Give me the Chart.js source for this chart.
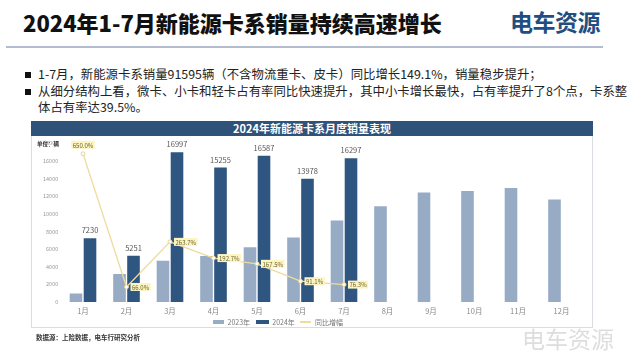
<!DOCTYPE html>
<html>
<head>
<meta charset="utf-8">
<script src="https://cdn.jsdelivr.net/npm/chart.js@4.4.1/dist/chart.umd.min.js"></script>
<style>
  body { margin: 0; width: 630px; height: 354px; background: #fff; position: relative; overflow: hidden;
         font-family: "Noto Sans CJK SC", "Noto Sans", sans-serif; }
  .abs { position: absolute; white-space: nowrap; }
  #title { left: 23px; top: 6px; font-size: 22px; font-weight: 900; color: #111; line-height: 32px; }
  #logo { left: 510px; top: 5px; font-size: 23px; font-weight: 700; color: #1f4f80; line-height: 32px; letter-spacing: -0.5px; }
  #rule { left: 6px; top: 46px; width: 597px; height: 2px; background: #b4bdd0; }
  .bullet { font-size: 12.4px; color: #222; line-height: 16.5px; }
  .sq { position: absolute; left: 25px; width: 6px; height: 6px; background: #111; }
  #panel { left: 31px; top: 121px; width: 560px; height: 206px; border: 1px solid #d9dde3; border-top: none; }
  #head { left: 31px; top: 121px; width: 562px; height: 15px; background: #2f5279; color: #fff;
          font-size: 11px; font-weight: 700; text-align: center; line-height: 15px; }
  #box { left: 32px; top: 137px; width: 559px; height: 190px; }
  #unit { left: 37px; top: 140px; font-size: 5.5px; font-weight: 700; color: #333; }
  #legend { left: 213px; top: 317px; font-size: 7px; color: #777; line-height: 9px; }
  #legend span { display: inline-block; vertical-align: middle; }
  #src { left: 36px; top: 332px; font-size: 6.5px; font-weight: 700; color: #333; }
  #mark { left: 522px; top: 323px; font-size: 23px; color: rgba(170,170,170,0.4); line-height: 30px; }
</style>
</head>
<body>
<div id="title" class="abs">2024年1-7月新能源卡系销量持续高速增长</div>
<div id="logo" class="abs">电车资源</div>
<div id="rule" class="abs"></div>

<div class="sq" style="top:72px"></div>
<div class="abs bullet" style="left:38px; top:66px">1-7月，新能源卡系销量91595辆（不含物流重卡、皮卡）同比增长149.1%，销量稳步提升；</div>
<div class="sq" style="top:89px"></div>
<div class="abs bullet" style="left:38px; top:83px">从细分结构上看，微卡、小卡和轻卡占有率同比快速提升，其中小卡增长最快，占有率提升了8个点，卡系整</div>
<div class="abs bullet" style="left:38px; top:99px">体占有率达39.5%。</div>

<div id="panel" class="abs"></div>
<div id="head" class="abs">2024年新能源卡系月度销量表现</div>
<div id="box" class="abs"><canvas id="chart-sales"></canvas></div>
<div id="unit" class="abs">单位：辆</div>

<div id="legend" class="abs">
  <span style="width:11px;height:4px;background:#97abc4"></span>
  <span style="margin:0 4px 0 2px">2023年</span>
  <span style="width:13px;height:4px;background:#2e5680"></span>
  <span style="margin:0 4px 0 2px">2024年</span>
  <span style="width:11px;height:1.5px;background:#f0dc9c"></span>
  <span style="margin:0 0 0 2px">同比增幅</span>
</div>
<div id="src" class="abs">数据源：上险数据，电车行研究分析</div>
<div id="mark" class="abs">电车资源</div>

<script>
const months = ['1月', '2月', '3月', '4月', '5月', '6月', '7月', '8月', '9月', '10月', '11月', '12月'];
const sales2023 = [964, 3163, 4673, 5212, 6201, 7315, 9244, 10850, 12410, 12600, 12940, 11630];
const sales2024 = [7230, 5251, 16997, 15255, 16587, 13978, 16297, null, null, null, null, null];
const yoyGrowth = [650.0, 66.0, 263.7, 192.7, 167.5, 91.1, 76.3, null, null, null, null, null];
const yTicks = [0, 2000, 4000, 6000, 8000, 10000, 12000, 14000, 16000, 18000];

const fontFamily = '"Noto Sans CJK SC", "Noto Sans", sans-serif';

// value labels above 2024 bars and boxed labels on the yoy line
const labelPlugin = {
  id: 'labels',
  afterDatasetsDraw(chart) {
    const ctx = chart.ctx;
    ctx.save();
    const bars = chart.getDatasetMeta(2);
    ctx.font = '7.5px ' + fontFamily;
    ctx.fillStyle = '#555';
    ctx.textAlign = 'center';
    ctx.textBaseline = 'bottom';
    bars.data.forEach((bar, i) => {
      if (sales2024[i] == null) return;
      ctx.fillText(String(sales2024[i]), bar.x, bar.y - 4);
    });

    const line = chart.getDatasetMeta(0);
    ctx.font = '6px ' + fontFamily;
    ctx.textBaseline = 'middle';
    ctx.textAlign = 'left';
    line.data.forEach((pt, i) => {
      if (yoyGrowth[i] == null) return;
      const txt = yoyGrowth[i].toFixed(1) + '%';
      const w = ctx.measureText(txt).width + 3;
      let x = pt.x + 4, y = pt.y;
      if (i === 0) { x = pt.x - w / 2; y = pt.y - 9; }
      ctx.fillStyle = '#fcf5c2';
      ctx.fillRect(x, y - 4, w, 8);
      ctx.fillStyle = '#6b5f2c';
      ctx.fillText(txt, x + 1.5, y + 0.5);
    });
    ctx.restore();
  }
};

new Chart(document.getElementById('chart-sales'), {
  type: 'bar',
  data: {
    labels: months,
    datasets: [
      {
        type: 'line',
        label: '同比增幅',
        data: yoyGrowth,
        yAxisID: 'y2',
        borderColor: '#efdb9c',
        borderWidth: 1.3,
        pointRadius: 2,
        pointBackgroundColor: '#ffffff',
        pointBorderColor: '#e8d48e',
        pointBorderWidth: 1,
        order: 0
      },
      {
        label: '2023年',
        data: sales2023,
        backgroundColor: '#97abc4',
        categoryPercentage: 0.644,
        barPercentage: 0.9,
        order: 1
      },
      {
        label: '2024年',
        data: sales2024,
        backgroundColor: '#2e5680',
        categoryPercentage: 0.644,
        barPercentage: 0.9,
        order: 2
      }
    ]
  },
  options: {
    responsive: true,
    maintainAspectRatio: false,
    animation: false,
    layout: { padding: { left: 0, right: 7.75, top: 4, bottom: 0 } },
    plugins: {
      legend: { display: false },
      title: { display: false },
      tooltip: { enabled: false }
    },
    scales: {
      x: {
        grid: { display: false, drawTicks: false },
        border: { display: false },
        ticks: { color: '#888', font: { size: 7.5, family: fontFamily }, padding: 5, maxRotation: 0 },
        afterFit(axis) { axis.height = 25; }
      },
      y: {
        min: 0,
        max: 18000,
        grid: { display: false, drawTicks: false },
        border: { display: false },
        afterBuildTicks(axis) { axis.ticks = yTicks.map(v => ({ value: v })); },
        ticks: { color: '#999', font: { size: 5.5, family: fontFamily }, padding: 3,
                 callback: v => String(v) },
        afterFit(axis) { axis.width = 29.25; }
      },
      y2: {
        display: false,
        min: 0,
        max: 696
      }
    }
  },
  plugins: [labelPlugin]
});
</script>
</body>
</html>
